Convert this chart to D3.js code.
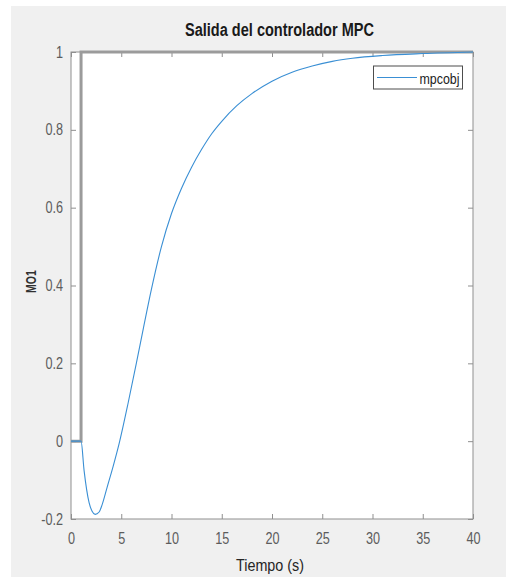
<!DOCTYPE html>
<html>
<head>
<meta charset="utf-8">
<script src="https://cdn.jsdelivr.net/npm/d3@7"></script>
<style>
  body { margin: 0; background: #ffffff; }
  text { font-family: "Liberation Sans", Arial, sans-serif; }
</style>
</head>
<body>
<div id="chart"></div>
<script>
// values
var timeValues = [0, 1, 1.3, 1.8, 2.1, 2.4, 2.8, 3.1, 3.6, 4.2, 4.8, 5.7, 6.5, 7.2, 8, 9, 10, 11, 12, 13, 14, 15, 16.5, 18, 20, 22, 24, 26, 28, 31, 35, 40];
var moValues = [0, 0, -0.075, -0.158, -0.18, -0.188, -0.182, -0.163, -0.118, -0.064, -0.005, 0.1, 0.2, 0.29, 0.39, 0.5, 0.585, 0.65, 0.704, 0.75, 0.79, 0.822, 0.862, 0.893, 0.925, 0.948, 0.964, 0.976, 0.984, 0.991, 0.996, 1.0];
var refTime = [0, 1, 1, 40];
var refValues = [0, 0, 1, 1];
var xTicks = [0, 5, 10, 15, 20, 25, 30, 35, 40];
var yTicks = [-0.2, 0, 0.2, 0.4, 0.6, 0.8, 1];
var legendLabel = "mpcobj";

var width = 519, height = 577;
var axLeft = 71, axRight = 473, axTop = 52, axBottom = 519;
var sx = 0.79;

var svg = d3.select('#chart')
    .append('svg')
    .attr('width', width)
    .attr('height', height);

// figure background
svg.append('rect')
    .attr('x', 11).attr('y', 6)
    .attr('width', 495).attr('height', 571)
    .attr('fill', '#f0f0f0');

var x = d3.scaleLinear().domain([0, 40]).range([axLeft, axRight]);
var y = d3.scaleLinear().domain([-0.2, 1]).range([axBottom, axTop]);

// axes area
svg.append('rect')
    .attr('x', axLeft).attr('y', axTop)
    .attr('width', axRight - axLeft).attr('height', axBottom - axTop)
    .attr('fill', '#ffffff')
    .attr('stroke', '#8f8f8f')
    .attr('stroke-width', 1);

var fmt = function(d){ return String(+d.toFixed(1)); };

var xAxis = svg.append('g')
    .attr('transform', 'translate(0,' + axBottom + ')')
    .call(d3.axisBottom(x).tickValues(xTicks).tickSize(-5).tickPadding(14).tickFormat(fmt));
var xTop = svg.append('g')
    .attr('transform', 'translate(0,' + axTop + ')')
    .call(d3.axisTop(x).tickValues(xTicks).tickSize(-5).tickFormat(''));
var yAxis = svg.append('g')
    .attr('transform', 'translate(' + axLeft + ',0)')
    .call(d3.axisLeft(y).tickValues(yTicks).tickSize(-5).tickPadding(10).tickFormat(fmt));
var yRight = svg.append('g')
    .attr('transform', 'translate(' + axRight + ',0)')
    .call(d3.axisRight(y).tickValues(yTicks).tickSize(-5).tickFormat(''));

[xAxis, xTop, yAxis, yRight].forEach(function(g){
    g.select('.domain').remove();
    g.selectAll('.tick line').attr('stroke', '#8f8f8f');
    g.selectAll('.tick text')
        .attr('fill', '#5c5c5c')
        .style('font-size', '16px')
        .attr('transform', 'scale(' + sx + ',1)');
});

// reference step
var refData = refTime.map(function(t, i){ return [t, refValues[i]]; });
svg.append('path')
    .datum(refData)
    .attr('fill', 'none')
    .attr('stroke', '#9b9b9b')
    .attr('stroke-width', 3)
    .attr('d', d3.line().x(function(d){ return x(d[0]); }).y(function(d){ return y(d[1]); }));

// controller output
var moData = timeValues.map(function(t, i){ return [t, moValues[i]]; });
svg.append('path')
    .datum(moData)
    .attr('fill', 'none')
    .attr('stroke', '#3a8fd4')
    .attr('stroke-width', 1.1)
    .attr('d', d3.line().curve(d3.curveMonotoneX)
        .x(function(d){ return x(d[0]); }).y(function(d){ return y(d[1]); }));

// legend
var lg = svg.append('g');
lg.append('rect')
    .attr('x', 373.5).attr('y', 66)
    .attr('width', 89).attr('height', 23)
    .attr('fill', '#ffffff')
    .attr('stroke', '#4d4d4d')
    .attr('stroke-width', 1);
lg.append('line')
    .attr('x1', 377).attr('x2', 417)
    .attr('y1', 77.5).attr('y2', 77.5)
    .attr('stroke', '#3a8fd4')
    .attr('stroke-width', 1.1);
lg.append('text')
    .attr('x', 419.5).attr('y', 83.5)
    .attr('textLength', 40)
    .attr('lengthAdjust', 'spacingAndGlyphs')
    .style('font-size', '15px')
    .attr('fill', '#222')
    .text(legendLabel);

// title and labels
svg.append('text')
    .attr('x', 185).attr('y', 36)
    .attr('textLength', 189)
    .attr('lengthAdjust', 'spacingAndGlyphs')
    .style('font-size', '18px')
    .style('font-weight', 'bold')
    .attr('fill', '#1a1a1a')
    .text('Salida del controlador MPC');

svg.append('text')
    .attr('x', 236).attr('y', 571)
    .attr('textLength', 68)
    .attr('lengthAdjust', 'spacingAndGlyphs')
    .style('font-size', '17px')
    .attr('fill', '#262626')
    .text('Tiempo (s)');

svg.append('text')
    .attr('transform', 'translate(35.5,293) rotate(-90)')
    .attr('textLength', 23)
    .attr('lengthAdjust', 'spacingAndGlyphs')
    .style('font-size', '15px')
    .style('font-weight', 'bold')
    .attr('fill', '#303030')
    .text('MO1');
</script>
</body>
</html>
